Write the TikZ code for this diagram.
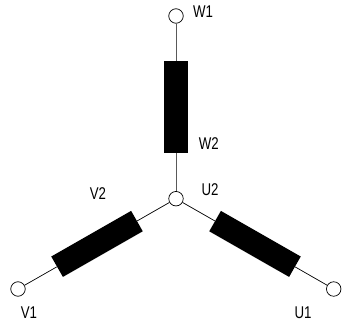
\documentclass[tikz,border=0pt]{standalone}
\usepackage{fontspec}
\usepackage{graphicx}
\setmainfont{Liberation Sans}
\newcommand{\narrowtext}[1]{\scalebox{0.78}[1]{#1}}
\begin{document}
\begin{tikzpicture}[x=1pt,y=1pt,
  term/.style={circle,draw=black,fill=white,line width=0.7pt,minimum size=14.5pt,inner sep=0pt},
  coil/.style={rectangle,fill=black,draw=none,minimum width=92pt,minimum height=23.5pt,inner sep=0pt},
  wire/.style={draw=black,line width=0.7pt},
  lbl/.style={font=\fontsize{17}{19}\selectfont,inner sep=0pt,text=black}]
\useasboundingbox (0,0) rectangle (342,327);
\node[term] (W1) at (176,311) {};
\node[term] (N) at (176,128.3) {};
\node[term] (V1) at (18,38) {};
\node[term] (U1) at (333.7,38) {};
\node[coil,rotate=90] (CW) at (176,220) {};
\node[coil,rotate=29.74] (CV) at (97,83.1) {};
\node[coil,rotate=-29.74] (CU) at (255,83.1) {};
\draw[wire,draw=black!65] (W1) -- (CW);
\draw[wire,draw=black!65] (CW) -- (N);
\draw[wire] (N) -- (CV);
\draw[wire] (CV) -- (V1);
\draw[wire] (N) -- (CU);
\draw[wire] (CU) -- (U1);
\node[lbl] (tW1) at (203,315) {\narrowtext{W1}};
\node[lbl] (tW2) at (208.7,183) {\narrowtext{W2}};
\node[lbl] (tU2) at (210,137.5) {\narrowtext{U2}};
\node[lbl] (tV2) at (98,133) {\narrowtext{V2}};
\node[lbl] (tV1) at (29,14) {\narrowtext{V1}};
\node[lbl] (tU1) at (303,14) {\narrowtext{U1}};
\end{tikzpicture}
\end{document}
